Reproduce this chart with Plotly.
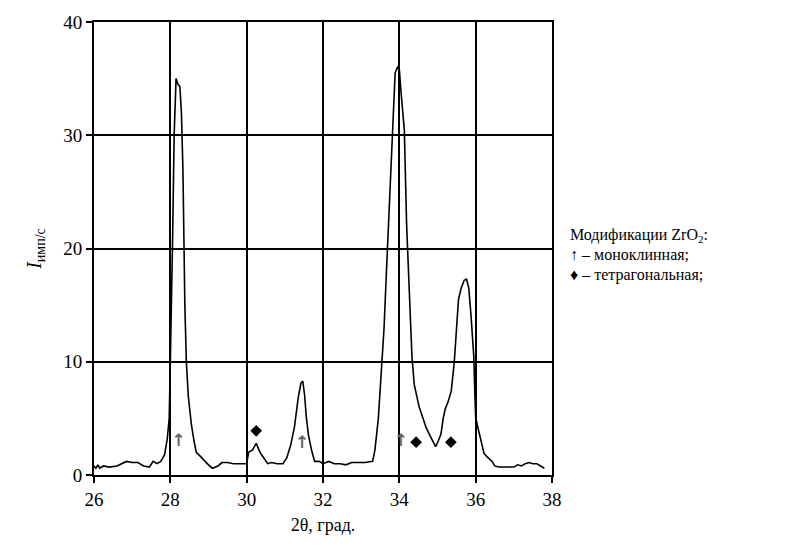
import plotly.graph_objects as go

two_theta = [26.0, 26.05, 26.1, 26.15, 26.25, 26.4, 26.6, 26.75, 26.85, 27.0, 27.15, 27.3, 27.45, 27.55,
             27.65, 27.75, 27.85, 27.92, 27.97, 28.0, 28.03, 28.06, 28.1, 28.15, 28.2, 28.25, 28.29, 28.33,
             28.38, 28.42, 28.47, 28.55, 28.62, 28.68, 28.8, 28.9, 29.0, 29.1, 29.25, 29.35, 29.5, 29.65,
             29.8, 30.0, 30.05, 30.15, 30.25, 30.35, 30.45, 30.55, 30.65, 30.8, 30.95, 31.05, 31.15, 31.25,
             31.35, 31.42, 31.47, 31.52, 31.56, 31.62, 31.7, 31.78, 31.9, 32.0, 32.15, 32.3, 32.45, 32.6,
             32.75, 32.9, 33.1, 33.3, 33.36, 33.45, 33.53, 33.6, 33.65, 33.7, 33.76, 33.82, 33.89, 33.95,
             34.0, 34.04, 34.09, 34.13, 34.19, 34.24, 34.27, 34.33, 34.39, 34.45, 34.52, 34.6, 34.7, 34.8,
             34.87, 34.95, 35.02, 35.09, 35.15, 35.2, 35.28, 35.36, 35.44, 35.5, 35.55, 35.62, 35.7, 35.76,
             35.82, 35.88, 35.95, 35.98, 36.0, 36.05, 36.1, 36.16, 36.22, 36.3, 36.43, 36.5, 36.6, 36.8,
             37.0, 37.1, 37.2, 37.3, 37.4, 37.5, 37.6, 37.7, 37.8]
intensity = [0.8, 0.6, 0.9, 0.6, 0.8, 0.7, 0.8, 1.0, 1.2, 1.1, 1.1, 0.8, 0.7, 1.2,
             1.0, 1.2, 1.8, 3.2, 5.0, 10.0, 15.0, 21.0, 30.0, 35.0, 34.5, 34.3, 32.0, 27.0,
             15.0, 10.0, 7.0, 4.5, 3.0, 2.0, 1.6, 1.2, 0.9, 0.6, 0.8, 1.1, 1.1, 1.0,
             1.0, 1.0, 2.0, 2.2, 2.8, 2.0, 1.5, 1.0, 1.1, 1.0, 1.0, 1.5, 2.6, 4.2,
             6.8, 8.1, 8.3, 7.0, 5.2, 3.5, 2.2, 1.2, 1.2, 1.0, 1.2, 1.0, 1.0, 0.9,
             1.1, 1.1, 1.1, 1.2, 2.2, 5.0, 9.5, 13.0, 17.0, 21.0, 25.6, 30.0, 35.5, 36.0,
             35.8, 34.0, 32.0, 30.5, 22.2, 18.0, 15.0, 10.5, 8.0, 7.0, 6.0, 5.2, 4.2, 3.5,
             3.0, 2.5, 3.0, 3.6, 5.0, 5.8, 6.5, 7.4, 10.0, 13.0, 15.5, 16.5, 17.2, 17.3,
             16.5, 14.0, 10.5, 7.0, 5.1, 4.3, 3.5, 2.8, 1.9, 1.6, 1.2, 0.8, 0.7, 0.7,
             0.7, 0.9, 0.8, 1.0, 1.1, 1.0, 1.0, 0.8, 0.6]

mono_x = [28.22, 31.45, 34.04]
mono_y = [2.9, 2.8, 2.9]
tetra_x = [30.25, 34.44, 35.35]
tetra_y = [3.9, 2.9, 2.9]

x_ticks = [26, 28, 30, 32, 34, 36, 38]
y_ticks = [0, 10, 20, 30, 40]

FONT = "Liberation Serif"

fig = go.Figure()
fig.add_trace(go.Scatter(x=two_theta, y=intensity, mode="lines",
                         line=dict(color="black", width=1.6), showlegend=False, hoverinfo="skip"))
fig.add_trace(go.Scatter(x=mono_x, y=mono_y, mode="text", text=["<b>↑</b>"] * len(mono_x),
                         textfont=dict(family="DejaVu Sans", size=17, color="#666666"),
                         showlegend=False, hoverinfo="skip"))
fig.add_trace(go.Scatter(x=tetra_x, y=tetra_y, mode="markers",
                         marker=dict(symbol="diamond", size=9, color="black"), showlegend=False,
                         hoverinfo="skip"))

axis_common = dict(showline=True, linecolor="black", linewidth=2, mirror=True,
                   showgrid=True, gridcolor="black", gridwidth=2, zeroline=False,
                   ticks="outside", ticklen=6, tickwidth=2, tickcolor="black",
                   tickfont=dict(family=FONT, size=19, color="black"))

fig.update_xaxes(range=[26, 38], tickvals=x_ticks, ticktext=[str(v) for v in x_ticks],
                 title=dict(text="2θ, град.", font=dict(family=FONT, size=18, color="black"), standoff=10),
                 **axis_common)
fig.update_yaxes(range=[0, 40], tickvals=y_ticks, ticktext=[str(v) for v in y_ticks],
                 title=dict(text="<i>I</i><sub>имп/с</sub>", font=dict(family=FONT, size=20, color="black"),
                            standoff=16),
                 **axis_common)

legend_lines = ["Модификации ZrO<sub>2</sub>:", "↑ – моноклинная;", "♦ – тетрагональная;"]
legend_y = [0.529, 0.486, 0.442]
legend_x = [1.035, 1.035, 1.035]
for t, yy, xx in zip(legend_lines, legend_y, legend_x):
    fig.add_annotation(text=t, xref="paper", yref="paper", x=xx, y=yy, xanchor="left", yanchor="middle",
                       showarrow=False, font=dict(family=FONT, size=16, color="black"))

fig.update_layout(width=798, height=545, margin=dict(l=94, r=246, t=16, b=70),
                  plot_bgcolor="white", paper_bgcolor="white",
                  font=dict(family=FONT, color="black"))

fig.write_html("out.html")
